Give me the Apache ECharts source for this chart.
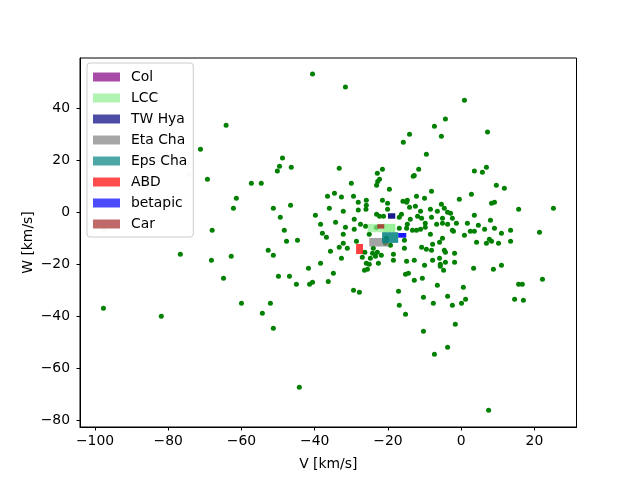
<!DOCTYPE html>
<html>
<head>
<meta charset="utf-8">
<script src="https://cdn.jsdelivr.net/npm/echarts@6/dist/echarts.min.js"></script>
<style>
  html, body { margin: 0; background: #fff; }
  #chart { width: 640px; height: 480px; }
</style>
</head>
<body>
<div id="chart"></div>
<script>
// field stars, [V, W] in km/s
var fieldStars = [
  [-40.6, 53.0], [-31.6, 48.0], [0.9, 43.0], [-64.2, 33.3], [-71.2, 24.1], [-48.8, 20.7], [-49.6, 17.6], [-46.4, 17.2], [-50.2, 15.7], [-69.3, 12.6],
  [-4.3, 35.7], [-7.3, 33.0], [-14.1, 29.9], [-5.4, 29.1], [7.2, 30.7], [-15.8, 26.8], [-9.5, 22.2], [-33.3, 16.8], [-21.5, 16.4], [-22.9, 14.9],
  [-22.3, 12.6], [-22.8, 11.7], [-23.1, 10.3], [-11.6, 16.4], [-12.8, 14.0], [-13.1, 13.7], [3.6, 15.7], [5.8, 15.3], [6.9, 17.2], [-57.3, 11.0],
  [-54.6, 11.0], [-61.4, 5.3], [-62.2, 1.4], [-51.3, 1.4], [-46.6, 2.6], [-49.4, -2.0], [-36.5, 6.0], [-36.0, 1.4], [-39.8, -1.3], [-38.4, -4.7],
  [-68.0, -7.0], [-48.3, -7.0], [-37.9, -8.2], [-36.8, -9.7], [-47.7, -11.3], [-44.7, -10.9], [-35.7, -15.1], [-76.7, -16.3], [-52.7, -14.7], [-51.3, -16.7],
  [-68.2, -18.6], [-62.8, -17.0], [-38.4, -19.7], [-41.7, -21.7], [-64.9, -25.5], [-49.9, -24.7], [-46.9, -24.7], [-45.0, -27.8], [-41.4, -27.8], [-40.6, -27.0],
  [-36.3, -26.7], [-97.7, -37.0], [-81.9, -40.1], [-60.0, -35.1], [-54.3, -39.0], [-52.1, -35.1], [-51.3, -44.7], [-44.2, -67.4], [-16.9, -35.9], [-15.2, -39.3],
  [-10.3, -32.8], [-7.6, -35.1], [-10.3, -45.9], [-7.3, -54.7], [-3.7, -32.4], [-2.4, -35.9], [-3.7, -52.0], [-1.6, -43.2], [0.1, -35.1], [1.2, -33.6],
  [7.5, -76.3], [14.6, -33.6], [17.0, -34.0],
  [-30.0, 11.0], [-19.6, 8.7], [-8.1, 8.0], [9.6, 10.3], [11.8, 9.1], [-34.6, 7.2], [-32.7, 5.7], [-29.4, 6.0], [-25.9, 4.5], [-21.5, 4.5],
  [-20.1, 3.3], [-15.9, 4.1], [-14.7, 4.5], [-14.9, 3.7], [-12.2, 6.0], [-10.0, 5.3], [-0.5, 4.9], [2.8, 6.8], [8.3, 3.3], [9.1, 3.7],
  [15.7, 1.0], [25.2, 1.4], [-32.2, 0.3], [-28.1, 3.7], [-28.1, 0.7], [-25.9, 2.6], [-26.0, 1.0], [-23.1, -0.9], [-20.1, 1.0], [-22.3, -1.7],
  [-21.2, -1.7], [-16.9, -2.0], [-16.3, -0.9], [-14.1, 1.8], [-12.5, 2.2], [-11.1, 0.3], [-8.4, 1.0], [-6.5, 0.3], [-5.4, 3.0], [-4.6, 1.4],
  [-3.7, -0.1], [-2.9, -0.5], [-8.1, -2.0], [-5.1, -2.4], [-2.4, -2.4], [3.6, -1.3], [8.0, -3.2], [-29.2, -2.8], [-34.3, -4.0], [-27.5, -4.7],
  [-26.1, -5.5], [-31.6, -5.9], [-29.2, -6.7], [-13.9, -2.8], [-11.9, -1.7], [-10.8, -2.4], [-9.8, -4.3], [-9.8, -5.9], [-14.7, -4.7], [-14.9, -6.3],
  [-16.9, -6.3], [-13.3, -7.0], [-12.2, -7.0], [-11.1, -6.7], [-6.7, -4.7], [-5.1, -4.3], [-3.7, -4.7], [-1.3, -4.3], [1.7, -4.3], [4.7, -5.1],
  [6.4, -6.7], [9.1, -6.3], [13.5, -7.0], [-2.4, -7.0], [-2.1, -7.4], [2.5, -7.4], [3.6, -7.4], [0.9, -9.0], [-8.4, -8.6], [-5.1, -10.1],
  [11.0, -8.2], [21.4, -7.8], [-32.2, -8.6], [-25.1, -8.6], [-28.6, -11.3], [-32.2, -12.0], [-33.3, -13.6], [-31.1, -14.0], [-20.4, -10.1], [-20.7, -12.0],
  [-19.3, -12.8], [-15.5, -10.9], [-15.5, -14.0], [-10.8, -13.6], [-9.5, -14.3], [-8.1, -14.7], [-7.8, -12.4], [-5.9, -11.7], [-4.6, -14.7], [-4.3, -15.5],
  [-1.8, -15.9], [4.2, -11.7], [6.9, -12.0], [7.7, -10.5], [8.3, -11.3], [10.2, -12.0], [13.5, -11.3], [-26.3, -15.5], [-27.0, -17.4], [-24.2, -15.9],
  [-22.9, -15.5], [-21.8, -16.7], [-23.4, -17.0], [-24.8, -17.8], [-32.7, -17.8], [-18.5, -16.3], [-18.5, -18.6], [-14.9, -19.0], [-12.8, -18.6], [-7.8, -18.6],
  [-5.9, -17.8], [-5.7, -20.1], [-4.3, -19.3], [-5.7, -20.9], [-4.8, -22.4], [-1.8, -19.3], [-10.0, -20.5], [-25.9, -19.7], [-25.1, -20.1], [-22.6, -19.7],
  [-25.6, -22.0], [-26.4, -22.4], [3.4, -21.7], [8.8, -22.0], [11.0, -20.5], [-34.9, -23.6], [-15.2, -24.0], [-14.4, -23.6], [-12.8, -26.3], [-10.6, -25.5],
  [-6.5, -28.2], [0.6, -29.0], [15.7, -27.8], [16.7, -27.8], [22.2, -25.9], [-29.4, -30.1], [-27.8, -30.9], [-17.1, -30.5], [-24.0, -14.0], [-23.2, -6.0]
];

// two very pale points
var faintStars = [[-97.5, -6.7], [-74.3, 14.2]];

var groupNames = ["Col", "LCC", "TW Hya", "Eta Cha", "Eps Cha", "ABD", "betapic", "Car"];
var groupColors = ["#800080", "#90ee90", "#000080", "#808080", "#008080", "#ff0000", "#0000ff", "#a52a2a"];
// boxes look denser on the plot than in the legend
var groupFill = [0.7, 0.7, 0.9, 0.72, 0.85, 0.75, 0.9, 0.85];
// [Vmin, Vmax, Wmin, Wmax]
var groupBoxes = [
  [],
  [[-25.5, -18.0, -7.8, -4.6], [-21.2, -18.0, -7.8, -4.6]],
  [[-20.0, -18.0, -2.6, -0.5]],
  [[-25.1, -19.7, -13.3, -10.0]],
  [[-21.6, -17.2, -11.9, -7.8]],
  [[-28.7, -26.8, -16.2, -12.3]],
  [[-17.2, -15.0, -9.9, -8.1]],
  [[-22.9, -21.0, -6.4, -4.7]]
];

var vTicks = [-100, -80, -60, -40, -20, 0, 20];
var wTicks = [-80, -60, -40, -20, 0, 20, 40];

var chart = echarts.init(document.getElementById("chart"));
var font = "DejaVu Sans";

function minus(v) {
  return String(v).replace("-", "\u2212");
}

function boxRenderer(color, fill) {
  return function(params, api) {
    var p0 = api.coord([api.value(0), api.value(3)]);
    var p1 = api.coord([api.value(1), api.value(2)]);
    return {
      type: "rect",
      shape: { x: p0[0], y: p0[1], width: p1[0] - p0[0], height: p1[1] - p0[1] },
      style: { fill: color, opacity: fill }
    };
  };
}

var series = [
  {
    type: "scatter",
    data: fieldStars,
    symbolSize: 5,
    itemStyle: { color: "#008000", opacity: 1 },
    z: 2
  },
  {
    type: "scatter",
    data: faintStars,
    symbolSize: 5,
    itemStyle: { color: "#008000", opacity: 0.15 },
    z: 2
  }
];

groupNames.forEach(function(name, i) {
  series.push({
    type: "custom",
    name: name,
    data: groupBoxes[i],
    encode: { x: [0, 1], y: [2, 3] },
    renderItem: boxRenderer(groupColors[i], groupFill[i]),
    itemStyle: { color: groupColors[i], opacity: 0.7 },
    z: 3
  });
});

var option = {
  animation: false,
  backgroundColor: "#fff",
  textStyle: { fontFamily: font },
  grid: {
    left: 80, right: 63.5, top: 58, bottom: 53,
    show: true, borderColor: "#000", borderWidth: 1
  },
  legend: {
    orient: "vertical",
    left: 87,
    top: 63,
    padding: [7, 6, 6, 6],
    icon: "rect",
    itemWidth: 27,
    itemHeight: 9,
    itemGap: 7,
    backgroundColor: "rgba(255,255,255,0.8)",
    borderColor: "#cccccc",
    borderWidth: 1,
    borderRadius: 3,
    textStyle: {
      fontFamily: font, fontSize: 13.9, color: "#000", lineHeight: 14,
      padding: [0, 0, 0, 6]
    },
    data: groupNames
  },
  xAxis: {
    type: "value",
    min: -104.1,
    max: 31.5,
    name: "V [km/s]",
    nameLocation: "middle",
    nameGap: 30,
    nameTextStyle: { fontFamily: font, fontSize: 13.9, color: "#000" },
    splitLine: { show: false },
    axisLine: { show: true, onZero: false, lineStyle: { color: "#000" } },
    axisTick: { show: true, length: 3.5, customValues: vTicks, lineStyle: { color: "#000" } },
    axisLabel: {
      customValues: vTicks, margin: 7, color: "#000",
      fontFamily: font, fontSize: 13.9, formatter: minus
    }
  },
  yAxis: {
    type: "value",
    min: -82.7,
    max: 59.2,
    name: "W [km/s]",
    nameLocation: "middle",
    nameGap: 45,
    nameMoveOverlap: false,
    nameTextStyle: { fontFamily: font, fontSize: 13.9, color: "#000" },
    splitLine: { show: false },
    axisLine: { show: true, onZero: false, lineStyle: { color: "#000" } },
    axisTick: { show: true, length: 3.5, customValues: wTicks, lineStyle: { color: "#000" } },
    axisLabel: {
      customValues: wTicks, margin: 10, color: "#000",
      fontFamily: font, fontSize: 13.9, formatter: minus
    }
  },
  series: series
};

chart.setOption(option);
</script>
</body>
</html>
